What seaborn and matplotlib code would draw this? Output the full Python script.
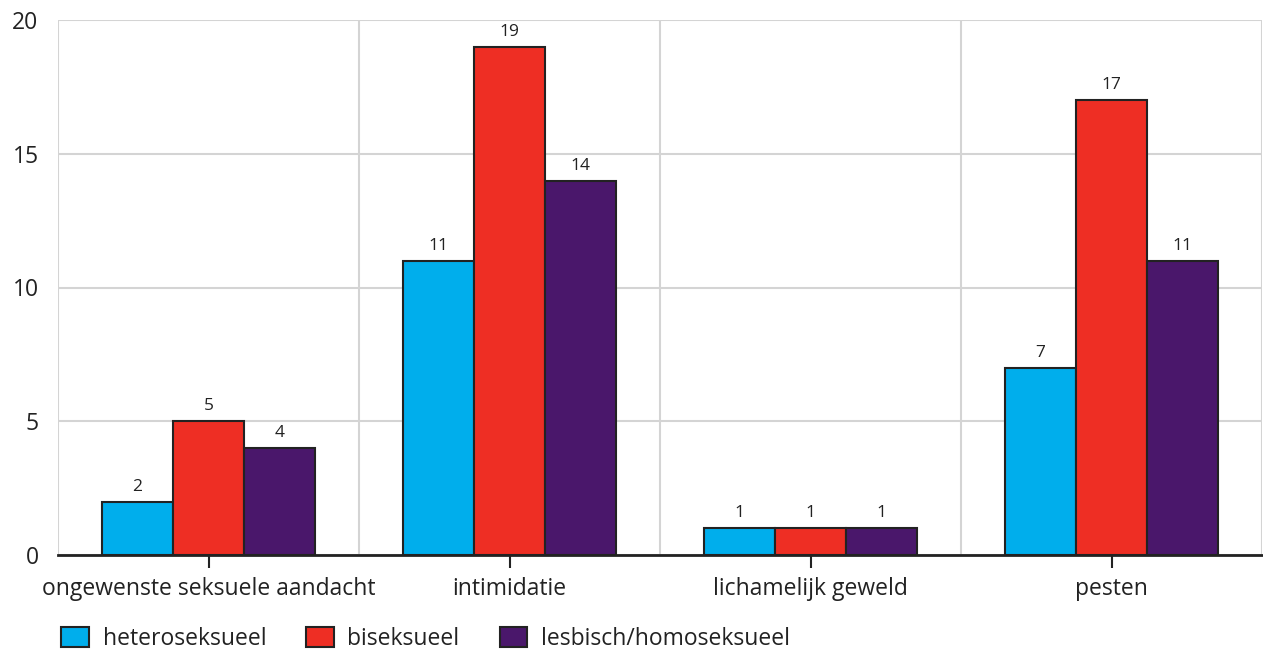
import pandas as pd
import numpy as np
import matplotlib.pyplot as plt
import seaborn as sns

# Data
categories = ["ongewenste seksuele aandacht", "intimidatie", "lichamelijk geweld", "pesten"]
groups = ["heteroseksueel", "biseksueel", "lesbisch/homoseksueel"]
hetero = [2, 11, 1, 7]
bi = [5, 19, 1, 17]
lhb = [4, 14, 1, 11]
colors = ["#00AEEC", "#EE2E24", "#4A176B"]

df = pd.DataFrame({
    "categorie": categories * 3,
    "groep": [groups[0]] * 4 + [groups[1]] * 4 + [groups[2]] * 4,
    "waarde": hetero + bi + lhb,
})

sns.set_style("white")
plt.rcParams["font.family"] = ["Open Sans", "DejaVu Sans"]
text_color = "#222222"

fig = plt.figure(figsize=(12.63, 6.51), dpi=100)
ax = fig.add_axes([58 / 1263, 1 - 555 / 651, 1204 / 1263, 535 / 651])

sns.barplot(data=df, x="categorie", y="waarde", hue="groep", order=categories,
            hue_order=groups, palette=colors, saturation=1, width=0.71,
            edgecolor="#222222", linewidth=1.5, ax=ax, legend=False, zorder=3)

for cont in ax.containers:
    ax.bar_label(cont, padding=5, fontsize=12.5, color=text_color)

ax.set_xlim(-0.5, 3.5)
ax.set_ylim(0, 20)
ax.set_yticks([0, 5, 10, 15, 20])
ax.set_xticks(range(4))
ax.set_xticks([-0.5, 0.5, 1.5, 2.5, 3.5], minor=True)
ax.grid(axis="y", color="#d4d4d4", linewidth=1.5, zorder=0)
ax.grid(axis="x", which="minor", color="#d4d4d4", linewidth=1.5, zorder=0)
ax.set_axisbelow(True)

ax.set_xlabel("")
ax.set_ylabel("")
for s in ["top", "right", "left"]:
    ax.spines[s].set_visible(False)
ax.spines["bottom"].set_color(text_color)
ax.spines["bottom"].set_linewidth(2)
ax.spines["bottom"].set_zorder(4)

ax.tick_params(axis="x", which="major", length=9, width=1.5, color=text_color,
               labelsize=16.5, labelcolor=text_color, pad=7, direction="out", bottom=True)
ax.tick_params(axis="x", which="minor", length=0)
ax.tick_params(axis="y", length=0, labelsize=16.5, labelcolor=text_color, pad=14)

handles = [plt.Rectangle((0, 0), 1, 1, facecolor=c, edgecolor="#222222", linewidth=1.5)
           for c in colors]
fig.legend(handles, groups, loc="center left", bbox_to_anchor=(0.0485, 1 - 639 / 651),
           ncol=3, frameon=False, fontsize=16.5, handlelength=1.2, handleheight=1.0,
           handletextpad=0.6, columnspacing=1.75, labelcolor=text_color,
           borderaxespad=0, borderpad=0)

fig.savefig("out.png", dpi=100)
